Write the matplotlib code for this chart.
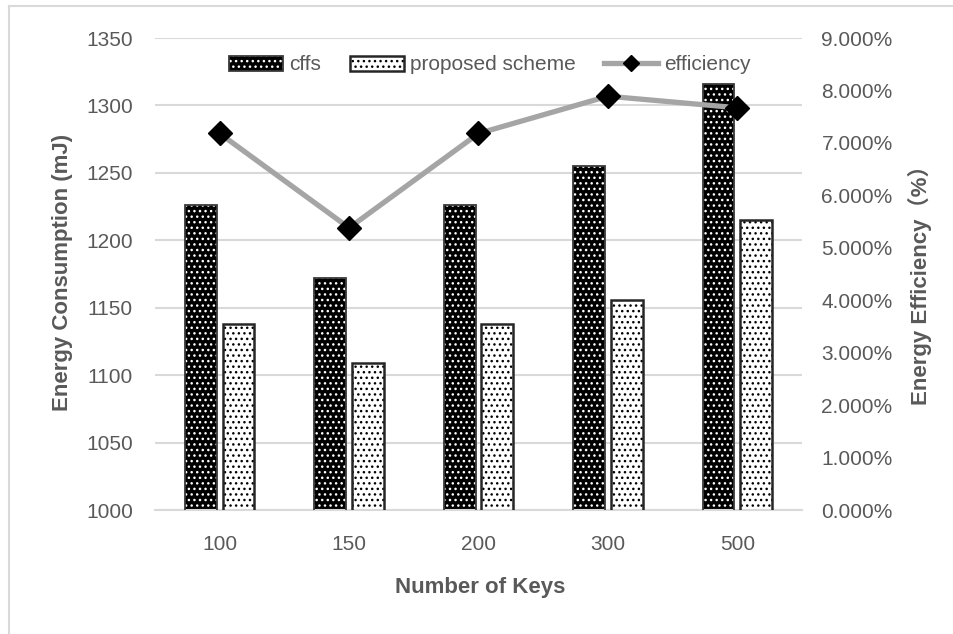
import numpy as np
import matplotlib.pyplot as plt
from matplotlib.patches import Patch
from matplotlib.lines import Line2D

plt.rcParams['font.family'] = ['Liberation Sans', 'Noto Sans CJK SC', 'DejaVu Sans']
plt.rcParams['hatch.linewidth'] = 1.0

keys = ['100', '150', '200', '300', '500']
cffs = [1226, 1172, 1226, 1255, 1316]
proposed = [1138, 1109, 1138, 1156, 1215]
efficiency = [7.18, 5.38, 7.18, 7.89, 7.67]   # percent

txt = '#595959'
grid = '#d9d9d9'

fig = plt.figure(figsize=(9.54, 6.34), dpi=100)
ax = fig.add_axes([155/954, 1-510/634, 647/954, 472/634])
ax2 = ax.twinx()

x = np.arange(len(keys))
w = 0.245
off = 0.145

# cffs: black bars with white dots
ax.bar(x-off, cffs, w, color='black', edgecolor='white', hatch='...', lw=0, zorder=2)
ax.bar(x-off, cffs, w, fill=False, edgecolor='#3a3a3a', lw=1.3, zorder=3)
# proposed scheme: white bars with black dots
ax.bar(x+off, proposed, w, color='white', edgecolor='black', hatch='...', lw=0, zorder=2)
ax.bar(x+off, proposed, w, fill=False, edgecolor='#262626', lw=1.8, zorder=3)

ax.set_ylim(1000, 1350)
ax.set_yticks(np.arange(1000, 1351, 50))
ax.set_xlim(-0.5, 4.5)
ax.set_xticks(x)
ax.set_xticklabels(keys)
ax.grid(axis='y', color=grid, lw=1.5, zorder=0)
ax.set_axisbelow(True)
for s in ax.spines.values():
    s.set_visible(False)
ax.spines['bottom'].set_visible(True)
ax.spines['bottom'].set_color(grid)
ax.spines['bottom'].set_linewidth(1.5)
ax.tick_params(axis='both', length=0, labelsize=15, labelcolor=txt)
ax.tick_params(axis='y', pad=16)
ax.tick_params(axis='x', pad=18)

ax2.plot(x, efficiency, color='#a5a5a5', lw=3.8, marker='D', ms=12.5,
         mfc='black', mec='black', zorder=5)
ax2.set_ylim(0, 9)
ax2.set_yticks(np.arange(0, 9.1, 1))
ax2.set_yticklabels(['%.3f%%' % v for v in np.arange(0, 9.1, 1)])
for s in ax2.spines.values():
    s.set_visible(False)
ax2.tick_params(axis='y', length=0, labelsize=15, labelcolor=txt, pad=14)

fig.text(63/954, 1-272/634, 'Energy Consumption (mJ)', rotation=90, ha='center', va='center',
         fontsize=16, fontweight='bold', color=txt)
fig.text(920/954, 1-280/634, 'Energy Efficiency（%）', rotation=90, ha='center', va='center',
         fontsize=16, fontweight='bold', color=txt)
fig.text(480/954, 1-588/634, 'Number of Keys', ha='center', va='center',
         fontsize=16, fontweight='bold', color=txt)

handles = [
    (Patch(facecolor='black', edgecolor='white', hatch='...', lw=0),
     Patch(fill=False, edgecolor='#3a3a3a', lw=1.3)),
    (Patch(facecolor='white', edgecolor='black', hatch='...', lw=0),
     Patch(fill=False, edgecolor='#262626', lw=1.8)),
    Line2D([], [], color='#a5a5a5', lw=3.8, marker='D', ms=8.5, mfc='black', mec='black'),
]
leg = ax.legend(handles, ['cffs', 'proposed scheme', 'efficiency'], ncol=3, frameon=False,
                loc='center', bbox_to_anchor=(490/954, 1-65/634), bbox_transform=fig.transFigure,
                fontsize=15, handlelength=2.6, handleheight=0.7, handletextpad=0.3,
                columnspacing=1.35, labelcolor=txt)
leg.set_zorder(10)

# outer chart border (left and top edges)
fig.add_artist(Line2D([9/954, 9/954], [0, 1-6/634], transform=fig.transFigure, color='#d9d9d9', lw=1.5))
fig.add_artist(Line2D([9/954, 1], [1-6/634, 1-6/634], transform=fig.transFigure, color='#d9d9d9', lw=1.5))

fig.savefig('out.png', dpi=100)
